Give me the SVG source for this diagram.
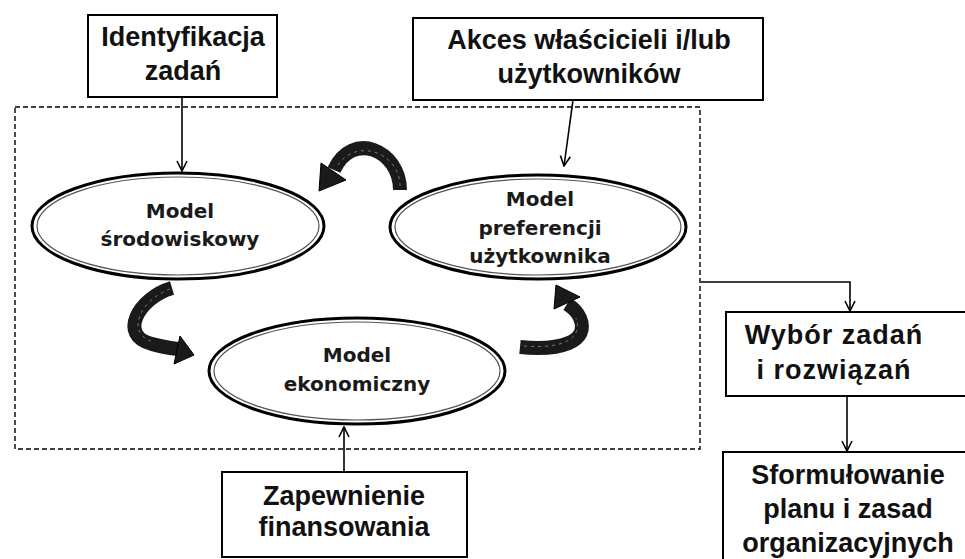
<svg xmlns="http://www.w3.org/2000/svg" width="965" height="559" viewBox="0 0 965 559">
<style>
.box{fill:#fff;stroke:#000;stroke-width:2}
.bt{font-family:"Liberation Sans",Arial,sans-serif;font-weight:bold;font-size:27px;fill:#111;text-anchor:middle}
.et{font-family:"DejaVu Sans",Verdana,sans-serif;font-weight:bold;font-size:20px;fill:#1a1a1a;text-anchor:middle}
.eo{fill:#fff;stroke:#000;stroke-width:3}
.ei{fill:none;stroke:#555;stroke-width:1.2}
.ln{fill:none;stroke:#000;stroke-width:1.6}
.dash{fill:none;stroke:#000;stroke-width:1.4;stroke-dasharray:5 3}
.band{fill:none;stroke:#1a1a1a;stroke-width:14}
.bandi{fill:none;stroke:#777;stroke-width:1;stroke-dasharray:3 4}
.head{fill:#1a1a1a;stroke:#000;stroke-width:1}
</style>
<defs>
<marker id="v" viewBox="0 0 12 12" refX="11" refY="6" markerWidth="12" markerHeight="12" markerUnits="userSpaceOnUse" orient="auto">
<path d="M1,1 L11,6 L1,11" fill="none" stroke="#000" stroke-width="1.6"/>
</marker>
</defs>
<rect width="965" height="559" fill="#fff"/>
<g id="frame">
<rect class="dash" x="15" y="107" width="685" height="342"/>
</g>
<g id="connectors">
<line class="ln" x1="182" y1="97" x2="182" y2="171" marker-end="url(#v)"/>
<line class="ln" x1="573" y1="100" x2="564" y2="166" marker-end="url(#v)"/>
<line class="ln" x1="344" y1="472" x2="344" y2="427" marker-end="url(#v)"/>
<polyline class="ln" points="701,282 850,282 850,311" marker-end="url(#v)"/>
<line class="ln" x1="847" y1="396" x2="847" y2="451" marker-end="url(#v)"/>
<g id="cycle">
<path class="band" d="M400,190 C400,150 352,130 334,170"/>
<path class="bandi" d="M400,186 C400,152 354,136 336,168"/>
<polygon class="head" points="319,191 321,163 346,180"/>
<path class="band" d="M172,288 C138,298 118,336 152,344 C162,347 170,348 178,349"/>
<path class="bandi" d="M170,289 C140,300 124,334 154,342"/>
<polygon class="head" points="194,355 180,336 174,364"/>
<path class="band" d="M520,347 C560,351 590,342 580,318 C577,311 572,307 567,304"/>
<path class="bandi" d="M524,346 C560,349 584,340 576,318"/>
<polygon class="head" points="556,285 580,297 554,309"/>
</g>
</g>
<g id="n-identyfikacja">
<rect class="box" x="88" y="15" width="189" height="82"/>
<text class="bt" x="183" y="46">Identyfikacja</text>
<text class="bt" x="183" y="80">zadań</text>
</g>
<g id="n-akces">
<rect class="box" x="413" y="18" width="350" height="82"/>
<text class="bt" x="589" y="49">Akces właścicieli i/lub</text>
<text class="bt" x="589" y="83">użytkowników</text>
</g>
<g id="n-srodowiskowy">
<ellipse class="eo" cx="178" cy="226" rx="146" ry="53"/>
<ellipse class="ei" cx="178" cy="226" rx="141" ry="49"/>
<text class="et" x="180" y="218">Model</text>
<text class="et" x="180" y="246">środowiskowy</text>
</g>
<g id="n-preferencji">
<ellipse class="eo" cx="538" cy="227" rx="148" ry="52"/>
<ellipse class="ei" cx="538" cy="227" rx="143" ry="48"/>
<text class="et" x="540" y="206">Model</text>
<text class="et" x="540" y="235">preferencji</text>
<text class="et" x="540" y="263">użytkownika</text>
</g>
<g id="n-ekonomiczny">
<ellipse class="eo" cx="357" cy="371" rx="148" ry="53"/>
<ellipse class="ei" cx="357" cy="371" rx="143" ry="49"/>
<text class="et" x="357" y="362">Model</text>
<text class="et" x="357" y="391">ekonomiczny</text>
</g>
<g id="n-zapewnienie">
<rect class="box" x="222" y="472" width="245" height="85"/>
<text class="bt" x="344" y="505">Zapewnienie</text>
<text class="bt" x="344" y="536">finansowania</text>
</g>
<g id="n-wybor">
<rect class="box" x="726" y="312" width="245" height="84"/>
<text class="bt" x="834" y="344" letter-spacing="1">Wybór zadań</text>
<text class="bt" x="834" y="379" letter-spacing="1">i rozwiązań</text>
</g>
<g id="n-sformulowanie">
<rect class="box" x="723" y="452" width="248" height="112"/>
<text class="bt" x="848" y="484">Sformułowanie</text>
<text class="bt" x="848" y="518">planu i zasad</text>
<text class="bt" x="848" y="552">organizacyjnych</text>
</g>
</svg>
